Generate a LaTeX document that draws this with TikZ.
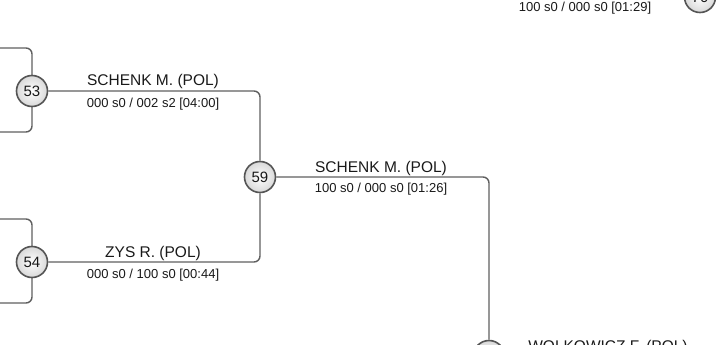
\documentclass[tikz,border=0pt]{standalone}
\usepackage{fontspec}
\setmainfont{Liberation Sans}
\usepackage{tikz}
\usetikzlibrary{positioning,calc,shadings}
\usepackage{xcolor}
\definecolor{wiregray}{RGB}{95,95,95}
\definecolor{ringgray}{RGB}{85,85,85}
\definecolor{inkgray}{RGB}{25,25,25}

\begin{document}
\begin{tikzpicture}[
    x=1pt, y=-1pt,
    match/.style={circle, draw=ringgray, line width=1.6pt, minimum size=31pt, inner sep=0pt, inner color=white, outer color=gray!30, font=\fontsize{15}{17}\selectfont, text=inkgray},
    wire/.style={draw=wiregray, line width=1.4pt, rounded corners=6pt},
    winner/.style={anchor=base, inner sep=0pt, font=\fontsize{15.5}{18}\selectfont, text=inkgray},
    score/.style={anchor=base, inner sep=0pt, font=\fontsize{13}{15}\selectfont, text=inkgray}
]
    \useasboundingbox (0,0) rectangle (716,345);
    \clip (0,0) rectangle (716,345);

    % free ends of the earlier rounds
    \coordinate (in53a) at (-5,48);
    \coordinate (in53b) at (-5,132);
    \coordinate (in54a) at (-5,219);
    \coordinate (in54b) at (-5,303);
    \coordinate (out65) at (730,356);

    \draw[wire] (in53a) -| (32,91);
    \draw[wire] (in53b) -| (32,91);
    \draw[wire] (in54a) -| (32,262);
    \draw[wire] (in54b) -| (32,262);

    \node[match] (m53) at (32,91) {53};
    \node[match] (m54) at (32,262) {54};
    \node[match] (m59) at (260,177) {59};
    \node[match] (m65) at (489,356) {65};
    \node[match] (m70) at (700,-3) {70};

    \draw[wire] (m53.east) -| (m59.north);
    \draw[wire] (m54.east) -| (m59.south);
    \draw[wire] (m59.east) -| (m65.north);
    \draw[wire] (m65.east) -- (out65);

    % labels
    \node[winner] (w53) at (153,86) {SCHENK M. (POL)};
    \node[score, below=21pt of w53.base, anchor=base] (s53) {000 s0 / 002 s2 [04:00]};
    \node[winner] (w54) at (153,257) {ZYS R. (POL)};
    \node[score, below=21pt of w54.base, anchor=base] (s54) {000 s0 / 100 s0 [00:44]};
    \node[winner] (w59) at (381,172) {SCHENK M. (POL)};
    \node[score, below=21pt of w59.base, anchor=base] (s59) {100 s0 / 000 s0 [01:26]};
    \node[winner] (w65) at (608,351) {WOLKOWICZ F. (POL)};
    \node[score] (s70) at (585,12) {100 s0 / 000 s0 [01:29]};
\end{tikzpicture}
\end{document}
